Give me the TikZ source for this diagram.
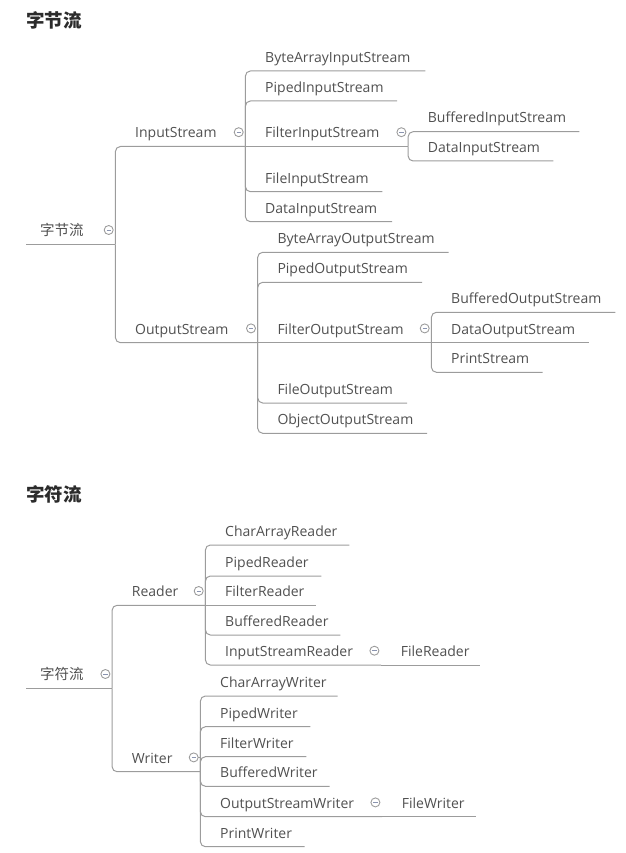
\documentclass[tikz,border=0pt]{standalone}
\usepackage{fontspec}
\setmainfont{Open Sans}
\newfontfamily\cjk{Noto Sans CJK SC}
\usetikzlibrary{positioning}

\definecolor{textgray}{HTML}{505050}
\definecolor{linegray}{HTML}{9C9C9C}
\definecolor{titlegray}{HTML}{2B2B2B}
\definecolor{minusblue}{HTML}{8A94B0}

% collapse mark drawn left of a parent's bar
\newcommand\foldmark[1]{%
  \draw[linegray, line width=0.9pt] ([shift={(-6.7pt,14.3pt)}]#1.south east) circle[radius=4.5pt];
  \draw[minusblue, line width=0.9pt] ([shift={(-8.9pt,14.3pt)}]#1.south east) -- ++(4.4pt,0);}

\begin{document}
\begin{tikzpicture}[
    x=1pt, y=-1pt,
    font=\fontsize{14}{16}\selectfont,
    tag/.style={anchor=south west, inner sep=0pt, text height=11pt, text depth=8.5pt, align=left, text width=#1, text=textgray},
    item/.style={tag=#1, execute at begin node=\hspace*{20pt}},
    rootitem/.style={tag=#1, execute at begin node=\hspace*{14pt}, font=\cjk\fontsize{14.5}{16}\selectfont},
    title/.style={anchor=west, inner sep=0pt, font=\cjk\bfseries\fontsize{18.5}{20}\selectfont, text=titlegray},
    link/.style={draw=linegray, line width=1pt, rounded corners=5pt}
  ]
    \useasboundingbox (0,0) rectangle (625,853);

    % Byte streams
    \node[title] (t1) at (26,20.5) {字节流};
    \node[rootitem=89pt] (root1) at (26,244.3) {字节流};

    \node[item=130pt] (instream) at (115,146.5) {InputStream};
    \node[item=180pt] (bais) at (245,71) {ByteArrayInputStream};
    \node[item=151.7pt] (pis) at (245,101) {PipedInputStream};
    \node[item=162.7pt] (fis) at (245,146.5) {FilterInputStream};
    \node[item=171.3pt] (buis) at (407.7,131.7) {BufferedInputStream};
    \node[item=145.3pt] (dis2) at (407.7,161) {DataInputStream};
    \node[item=137pt] (fileis) at (245,191.7) {FileInputStream};
    \node[item=146.7pt] (dis) at (245,221.7) {DataInputStream};

    \node[item=142.3pt] (outstream) at (115,342.7) {OutputStream};
    \node[item=191pt] (baos) at (257.3,252.3) {ByteArrayOutputStream};
    \node[item=164.4pt] (pos) at (257.3,282.3) {PipedOutputStream};
    \node[item=173.7pt] (fos) at (257.3,342.7) {FilterOutputStream};
    \node[item=184pt] (buos) at (431,312.3) {BufferedOutputStream};
    \node[item=158pt] (daos) at (431,342.7) {DataOutputStream};
    \node[item=111.3pt] (ps) at (431,372.3) {PrintStream};
    \node[item=149.4pt] (fileos) at (257.3,403) {FileOutputStream};
    \node[item=169.4pt] (oos) at (257.3,433.3) {ObjectOutputStream};

    % Char streams
    \node[title] (t2) at (26,494) {字符流};
    \node[rootitem=85.7pt] (root2) at (26,688.3) {字符流};

    \node[item=93.3pt] (reader) at (111.7,605.3) {Reader};
    \node[item=144pt] (car) at (205,545) {CharArrayReader};
    \node[item=116pt] (pr) at (205,576) {PipedReader};
    \node[item=111pt] (fr) at (205,605.3) {FilterReader};
    \node[item=135pt] (br) at (205,635) {BufferedReader};
    \node[item=175.7pt] (isr) at (205,665) {InputStreamReader};
    \node[item=99.3pt] (filer) at (380.7,665) {FileReader};

    \node[item=88.3pt] (writer) at (111.7,771.7) {Writer};
    \node[item=137.3pt] (caw) at (200,696) {CharArrayWriter};
    \node[item=110pt] (pw) at (200,726.7) {PipedWriter};
    \node[item=106pt] (fw) at (200,756.7) {FilterWriter};
    \node[item=129.3pt] (bw) at (200,786.3) {BufferedWriter};
    \node[item=181.7pt] (osw) at (200,816.7) {OutputStreamWriter};
    \node[item=94.3pt] (filew) at (381.7,816.7) {FileWriter};
    \node[item=104.3pt] (prw) at (200,846.7) {PrintWriter};

    % Connections
    \draw[link] (root1.south west) -- (root1.south east);
    \draw[link] (root1.south east) |- (instream.south east);
    \draw[link] (root1.south east) |- (outstream.south east);
    \foreach \c in {bais,pis,fileis,dis}
      \draw[link] (instream.south east) |- (\c.south east);
    \draw[link] (instream.south east) -- (fis.south east);
    \draw[link] (fis.south east) |- (buis.south east);
    \draw[link] (fis.south east) |- (dis2.south east);
    \foreach \c in {baos,pos,fileos,oos}
      \draw[link] (outstream.south east) |- (\c.south east);
    \draw[link] (outstream.south east) -- (fos.south east);
    \draw[link] (fos.south east) |- (buos.south east);
    \draw[link] (fos.south east) -- (daos.south east);
    \draw[link] (fos.south east) |- (ps.south east);

    \draw[link] (root2.south west) -- (root2.south east);
    \draw[link] (root2.south east) |- (reader.south east);
    \draw[link] (root2.south east) |- (writer.south east);
    \foreach \c in {car,pr,br,isr}
      \draw[link] (reader.south east) |- (\c.south east);
    \draw[link] (reader.south east) -- (fr.south east);
    \draw[link] (isr.south east) -- (filer.south east);
    \foreach \c in {caw,pw,fw,bw,osw,prw}
      \draw[link] (writer.south east) |- (\c.south east);
    \draw[link] (osw.south east) -- (filew.south east);
    \draw[link] ([shift={(-2.2pt,14.3pt)}]writer.south east) -- ++(2.2pt,0);

    \foreach \p in {root1,instream,fis,outstream,fos,root2,reader,isr,writer,osw}
      {\foldmark{\p}}
  \end{tikzpicture}
\end{document}
